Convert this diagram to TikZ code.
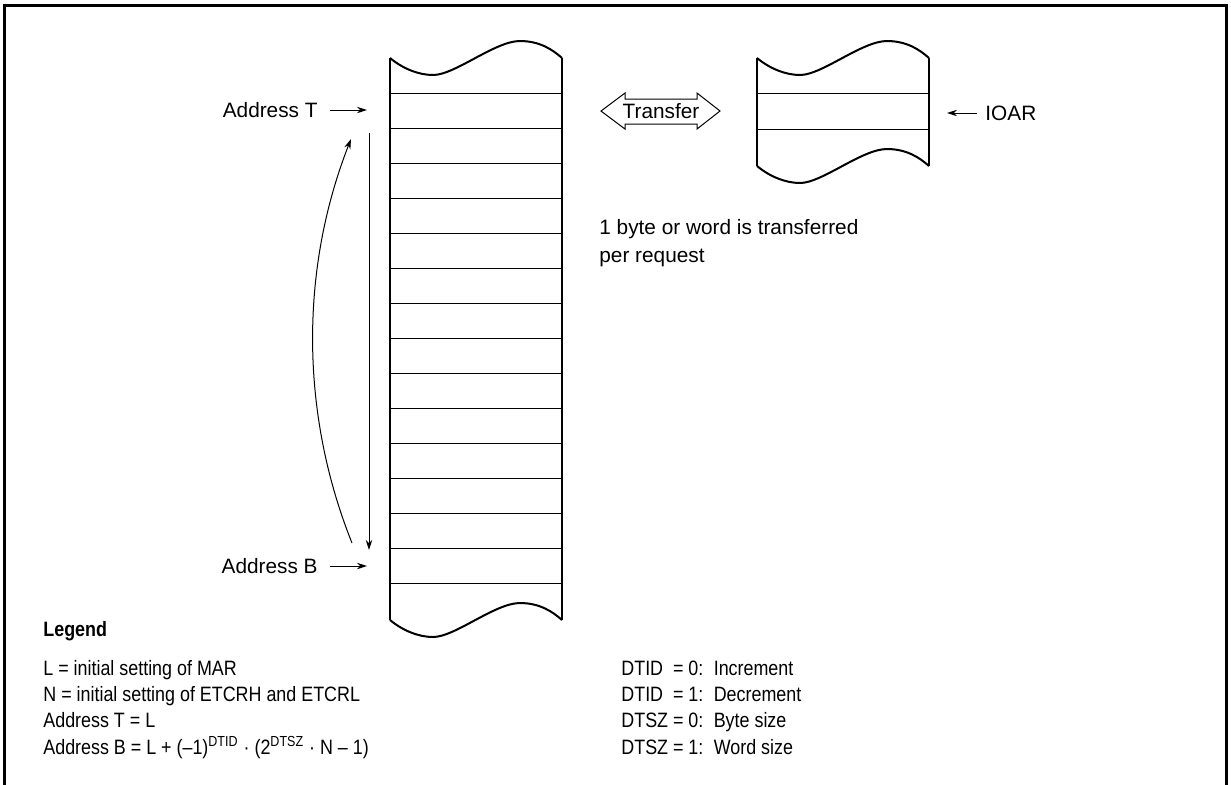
\documentclass[tikz,border=0pt]{standalone}
\usepackage{fontspec}
\setmainfont{Liberation Sans}
\newfontfamily\narrowfont[FakeStretch=0.86]{Liberation Sans}
\usetikzlibrary{arrows.meta,positioning,calc}
% wavy torn edge of a memory strip, left end at (#1,#2)
\newcommand{\tapewave}[2]{%
  \draw[tape] (#1,#2) .. controls ({#1+12},{#2+10}) and ({#1+28},{#2+17}) .. ({#1+43},{#2+17})
    .. controls ({#1+65},{#2+17}) and ({#1+105},{#2-17}) .. ({#1+130},{#2-17})
    .. controls ({#1+150},{#2-17}) and ({#1+163},{#2-8}) .. ({#1+172},{#2})}

\begin{document}
\begin{tikzpicture}[x=0.5pt,y=-0.5pt,
  tape/.style={line width=1pt,line join=round},
  row/.style={line width=0.5pt},
  lbl/.style={font=\fontsize{10.4}{14}\selectfont,inner sep=0pt},
  legtext/.style={font=\narrowfont\fontsize{10.4}{13.2}\selectfont,inner sep=0pt},
  ptr/.style={-{Stealth[length=5pt,width=3.2pt]},line width=0.5pt}]
  \useasboundingbox (0,0) rectangle (1231,784);
  \draw[line width=1.5pt] (4,5) rectangle (1226,792);
  % memory area
  \tapewave{390}{58};
  \tapewave{390}{620};
  \draw[tape] (390,58) -- (390,620);
  \draw[tape] (562,58) -- (562,620);
  \foreach \i in {0,...,14}
    \draw[row] (390,{93+35.07*\i}) -- (562,{93+35.07*\i});
  \node[lbl,anchor=east] (addrT) at (318,110) {Address T};
  \node[lbl,anchor=east] (addrB) at (318,566) {Address B};
  \coordinate (tipT) at (367,110);
  \coordinate (tipB) at (367,566);
  \draw[ptr,shorten <=6pt] (addrT) -- (tipT);
  \draw[ptr,shorten <=6pt] (addrB) -- (tipB);
  % scan direction and wrap back
  \coordinate (scanTop) at (369,133);
  \coordinate (scanBot) at (369,550);
  \draw[ptr] (scanTop) -- (scanBot);
  \coordinate (wrapBot) at (352,543);
  \coordinate (wrapTop) at (351,139);
  \draw[ptr] (wrapBot) .. controls (300,413) and (300,269) .. (wrapTop);
  % I/O register
  \tapewave{757}{58};
  \tapewave{757}{166};
  \draw[tape] (757,58) -- (757,166);
  \draw[tape] (929,58) -- (929,166);
  \draw[row] (757,93) -- (929,93);
  \draw[row] (757,129) -- (929,129);
  \node[lbl,anchor=west] (ioar) at (985,113) {IOAR};
  \coordinate (tipIO) at (947,113);
  \draw[ptr,shorten <=4pt] (ioar) -- (tipIO);
  % transfer
  \node[lbl] (xfer) at (661,111) {Transfer};
  \draw[line width=0.5pt] (601,111) -- (625,93) -- (625,99) -- (697,99) -- (697,93)
    -- (720,111) -- (697,129) -- (697,124) -- (625,124) -- (625,129) -- cycle;
  \node[lbl,anchor=base west] (note) at (599,234)
    {\begin{tabular}[t]{@{}l@{}}1 byte or word is transferred\\per request\end{tabular}};
  % legend
  \node[legtext,font=\narrowfont\bfseries\fontsize{10.4}{13.2}\selectfont,anchor=base west] (legend) at (43,636) {Legend};
  \node[legtext,anchor=base west] (defs) at (43,675)
    {\begin{tabular}[t]{@{}l@{}}
     L = initial setting of MAR\\
     N = initial setting of ETCRH and ETCRL\\
     Address T = L\\
     Address B = L + (–1)\textsuperscript{DTID} · (2\textsuperscript{DTSZ} · N – 1)
     \end{tabular}};
  \node[legtext,anchor=base west] (flags) at (621,675)
    {\begin{tabular}[t]{@{}l@{ }l@{\enspace}l@{}}
     DTID & = 0: & Increment\\
     DTID & = 1: & Decrement\\
     DTSZ & = 0: & Byte size\\
     DTSZ & = 1: & Word size
     \end{tabular}};
\end{tikzpicture}
\end{document}
